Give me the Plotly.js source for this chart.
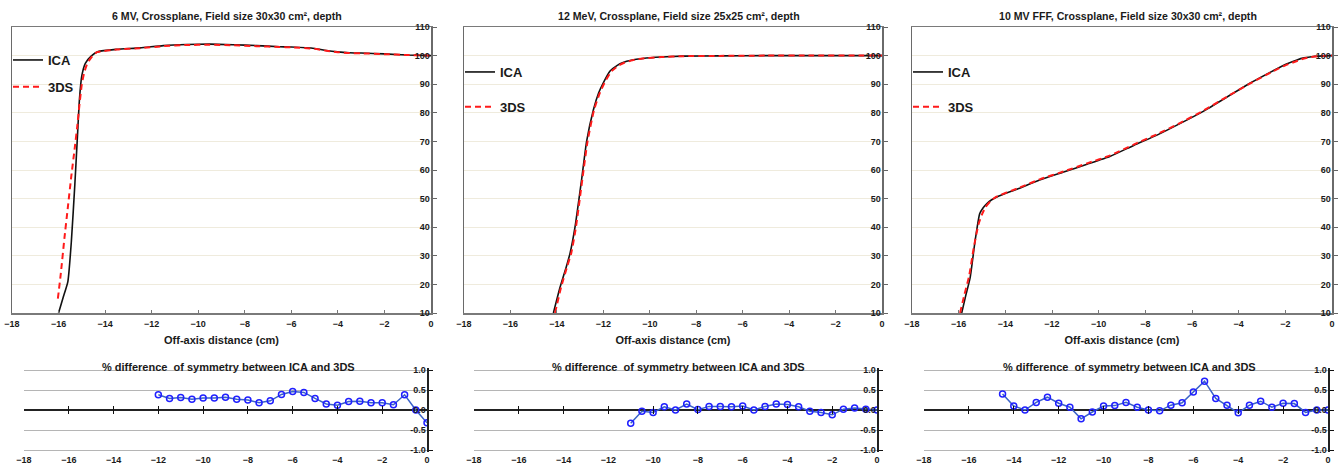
<!DOCTYPE html>
<html>
<head>
<meta charset="utf-8">
<script src="https://cdn.plot.ly/plotly-3.0.1.min.js"></script>
<style>html,body{margin:0;padding:0;background:#fff;}#chart{width:1343px;height:469px;}</style>
</head>
<body>
<div id="chart"></div>
<script>
// ---------- Data ----------
const panelTitles = [
  "6 MV, Crossplane, Field size 30x30 cm², depth",
  "12 MeV, Crossplane, Field size 25x25 cm², depth",
  "10 MV FFF, Crossplane, Field size 30x30 cm², depth"
];
const diffTitle = "% difference  of symmetry between ICA and 3DS";
const xTitle = "Off-axis distance (cm)";
const seriesNames = ["ICA", "3DS"];

// Panel 1: 6 MV
const p1IcaX = [-16.0, -15.8, -15.6, -15.45, -15.3, -15.2, -15.1, -15.0, -14.85, -14.6, -14.3, -13.5, -12.5, -11.5, -10.5, -9.5, -8.5, -7.5, -6.5, -6, -5, -4.5, -4, -3.5, -3, -2, -1, 0];
const p1IcaY = [10, 15.5, 21, 35, 55, 70, 85, 93, 97.3, 99.8, 101.4, 102.2, 102.7, 103.5, 103.9, 104.0, 103.8, 103.5, 103.1, 103.0, 102.5, 101.8, 101.3, 101.0, 100.9, 100.6, 100.2, 100];
const p1DsX = [-16.03, -15.9, -15.75, -15.6, -15.45, -15.3, -15.2, -15.1, -15.0, -14.9, -14.75, -14.55, -14.35, -13.5, -12.5, -11.5, -10.5, -9.5, -8.5, -7.5, -6.5, -6, -5, -4.5, -4, -3.5, -3, -2, -1, 0];
const p1DsY = [15, 24, 36, 47, 58, 68, 75, 83, 90, 94, 97.5, 99.8, 101.2, 102.1, 102.6, 103.3, 103.7, 103.8, 103.6, 103.3, 103.0, 102.9, 102.4, 101.7, 101.2, 100.9, 100.8, 100.5, 100.2, 100];

// Panel 2: 12 MeV
const p2IcaX = [-14.15, -13.87, -13.6, -13.43, -13.22, -12.93, -12.72, -12.43, -12.2, -12.0, -11.71, -11.4, -11.15, -10.8, -10.3, -9.5, -8.57, -7, -5, -3, -1, 0];
const p2IcaY = [10, 18.8, 26, 31, 40, 57, 70, 81, 87, 90.5, 94.6, 96.6, 97.6, 98.4, 99.0, 99.5, 99.8, 99.9, 100, 100, 100, 100];
const p2DsX = [-14.08, -13.82, -13.55, -13.38, -13.18, -12.9, -12.68, -12.4, -12.15, -11.95, -11.65, -11.35, -11.1, -10.75, -10.3, -9.5, -8.57, -7, -5, -3, -1, 0];
const p2DsY = [10, 19, 26.5, 31, 40, 57, 70, 81, 87, 90.5, 94.5, 96.5, 97.5, 98.4, 99.0, 99.5, 99.8, 99.9, 100, 100, 100, 100];

// Panel 3: 10 MV FFF
const p3IcaX = [-15.87, -15.7, -15.51, -15.3, -15.1, -14.95, -14.8, -14.6, -14.3, -13.5, -12.5, -11.5, -10.5, -9.5, -8.5, -7.5, -6.5, -5.5, -4.5, -3.5, -2.5, -2.0, -1.5, -1.2, -0.8, -0.4, 0];
const p3IcaY = [10, 16, 22.3, 35, 44.7, 46.8, 48.2, 49.5, 50.8, 53.3, 56.6, 59.3, 62.0, 64.8, 68.6, 72.2, 76.3, 80.6, 85.5, 90.4, 94.8, 96.9, 98.5, 99.2, 99.7, 99.9, 100];
const p3DsX = [-15.94, -15.75, -15.55, -15.35, -15.15, -15.0, -14.85, -14.65, -14.4, -13.5, -12.5, -11.5, -10.5, -9.5, -8.5, -7.5, -6.5, -5.5, -4.5, -3.5, -2.5, -2.0, -1.5, -1.2, -0.8, -0.4, 0];
const p3DsY = [10, 16.5, 23, 33, 41, 44.5, 47, 49, 50.6, 53.5, 56.8, 59.5, 62.3, 65.1, 68.9, 72.5, 76.5, 80.8, 85.6, 90.3, 94.6, 96.6, 98.1, 99.0, 99.6, 99.9, 100];

// Difference panels
const d1X = [-12, -11.5, -11, -10.5, -10, -9.5, -9, -8.5, -8, -7.5, -7, -6.5, -6, -5.5, -5, -4.5, -4, -3.5, -3, -2.5, -2, -1.5, -1, -0.5, 0];
const d1Y = [0.38, 0.29, 0.31, 0.27, 0.30, 0.30, 0.32, 0.27, 0.25, 0.18, 0.23, 0.39, 0.46, 0.44, 0.29, 0.15, 0.12, 0.21, 0.22, 0.18, 0.18, 0.13, 0.38, 0.0, -0.32];
const d2X = [-11, -10.5, -10, -9.5, -9, -8.5, -8, -7.5, -7, -6.5, -6, -5.5, -5, -4.5, -4, -3.5, -3, -2.5, -2, -1.5, -1, -0.5, 0];
const d2Y = [-0.33, -0.03, -0.06, 0.08, 0.0, 0.15, 0.01, 0.09, 0.09, 0.08, 0.10, 0.0, 0.09, 0.15, 0.14, 0.08, -0.03, -0.06, -0.12, 0.02, 0.05, 0.02, 0.0];
const d3X = [-14.5, -14, -13.5, -13, -12.5, -12, -11.5, -11, -10.5, -10, -9.5, -9, -8.5, -8, -7.5, -7, -6.5, -6, -5.5, -5, -4.5, -4, -3.5, -3, -2.5, -2, -1.5, -1, -0.5, 0];
const d3Y = [0.40, 0.10, 0.0, 0.19, 0.32, 0.17, 0.07, -0.22, -0.05, 0.10, 0.11, 0.19, 0.07, 0.0, -0.02, 0.12, 0.18, 0.45, 0.72, 0.29, 0.12, -0.07, 0.12, 0.22, 0.07, 0.17, 0.16, -0.06, 0.0, 0.0];

const xTicks = [-18, -16, -14, -12, -10, -8, -6, -4, -2, 0];
const yTopTicks = [10, 20, 30, 40, 50, 60, 70, 80, 90, 100, 110];
const yDiffTicks = [-1, -0.5, 0, 0.5, 1];
const yDiffTickText = ["-1.0", "-0.5", "0.0", "0.5", "1.0"];

// ---------- Layout helpers ----------
const W = 1343, H = 469;
const FONT = "Liberation Sans, Arial, sans-serif";
const TXT = "#1a1a1a";
const px = v => v / W;
const py = v => 1 - v / H;

const topXpx = [[12, 431], [464, 882], [912, 1332]];
const botXpx = [[24, 427], [474, 877], [924, 1328]];
const topYpx = [27, 313];
const botYpx = [368.4, 451.6];

const tickFont = {family: FONT, size: 9, color: TXT, weight: "bold"};

const traces = [];
const topData = [[p1IcaX, p1IcaY, p1DsX, p1DsY], [p2IcaX, p2IcaY, p2DsX, p2DsY], [p3IcaX, p3IcaY, p3DsX, p3DsY]];
const diffData = [[d1X, d1Y], [d2X, d2Y], [d3X, d3Y]];

const layout = {
  width: W, height: H,
  margin: {l: 0, r: 0, t: 0, b: 0},
  paper_bgcolor: "#ffffff", plot_bgcolor: "#ffffff",
  font: {family: FONT, color: TXT},
  annotations: []
};

topData.forEach((d, i) => {
  const n = i + 1;
  const xs = n === 1 ? "x" : "x" + n;
  const ys = n === 1 ? "y" : "y" + n;
  const leg = n === 1 ? "legend" : "legend" + n;
  traces.push({x: d[0], y: d[1], xaxis: xs, yaxis: ys, type: "scatter", mode: "lines", name: seriesNames[0],
    line: {color: "#111111", width: 1.6, shape: "spline", smoothing: 0.5}, legend: leg, legendgroup: "a" + n});
  traces.push({x: d[2], y: d[3], xaxis: xs, yaxis: ys, type: "scatter", mode: "lines", name: seriesNames[1],
    line: {color: "#ff1a1a", width: 2, dash: "6px,4px", shape: "spline", smoothing: 0.5}, legend: leg, legendgroup: "b" + n});

  layout[n === 1 ? "xaxis" : "xaxis" + n] = {
    domain: [px(topXpx[i][0]), px(topXpx[i][1])], anchor: ys,
    range: [-18, 0], tickvals: xTicks, ticks: "inside", ticklen: 3, tickcolor: "#777",
    ticklabelstandoff: 2,
    showline: true, linecolor: "#7a7a7a", linewidth: 1.5, mirror: true,
    showgrid: false, zeroline: false, tickfont: tickFont, fixedrange: true,
    title: {text: xTitle, font: {family: FONT, size: 11, color: TXT, weight: "bold"}, standoff: 8}
  };
  layout[n === 1 ? "yaxis" : "yaxis" + n] = {
    domain: [py(topYpx[1]), py(topYpx[0])], anchor: xs, side: "right",
    range: [10, 110], tickvals: yTopTicks, ticks: "outside", ticklen: 4, tickcolor: "#666",
    ticklabelposition: "inside", ticklabeloverflow: "allow",
    showline: true, linecolor: "#6a6a6a", linewidth: 1.5, mirror: true,
    showgrid: true, gridcolor: "#efebdd", gridwidth: 1, zeroline: false,
    tickfont: tickFont, fixedrange: true
  };
  const gap = n === 1 ? 7 : 15;
  const legTop = n === 1 ? 45 : 57;
  layout[leg] = {
    x: px(topXpx[i][0] - 4), y: py(legTop), xanchor: "left", yanchor: "top",
    bgcolor: "rgba(0,0,0,0)", borderwidth: 0, tracegroupgap: gap, itemwidth: 30,
    font: {family: FONT, size: 13, color: TXT, weight: "bold"}
  };
  layout.annotations.push({
    text: panelTitles[i], xref: "paper", yref: "paper",
    x: px((topXpx[i][0] + topXpx[i][1]) / 2 + 6), y: py(16), xanchor: "center", yanchor: "middle",
    showarrow: false, font: {family: FONT, size: 10.6, color: TXT, weight: "bold"}
  });
});

diffData.forEach((d, i) => {
  const n = i + 4;
  const ov = i + 7;
  traces.push({x: d[0], y: d[1], xaxis: "x" + n, yaxis: "y" + n, type: "scatter", mode: "lines+markers",
    name: "diff", showlegend: false,
    line: {color: "#3a62c8", width: 1.5},
    marker: {symbol: "circle-open", size: 6, color: "#2020ff", line: {width: 1.5, color: "#2020ff"}}});
  // invisible copy so the overlaid tick axis on the zero line gets drawn
  traces.push({x: d[0], y: d[1], xaxis: "x" + ov, yaxis: "y" + n, type: "scatter", mode: "lines",
    name: "diff-axis", showlegend: false, hoverinfo: "skip", opacity: 0, line: {width: 0}});
  layout["xaxis" + n] = {
    domain: [px(botXpx[i][0]), px(botXpx[i][1])], anchor: "y" + n,
    range: [-18, 0], tickvals: xTicks, ticks: "", ticklabelstandoff: 1,
    showline: false, showgrid: false, zeroline: false,
    tickfont: tickFont, fixedrange: true
  };
  layout["xaxis" + ov] = {
    overlaying: "x" + n, anchor: "free", position: py((botYpx[0] + botYpx[1]) / 2 + 4),
    range: [-18, 0], tickvals: xTicks, ticks: "inside", ticklen: 8, tickcolor: "#111", tickwidth: 1.2,
    showticklabels: false, showline: false, showgrid: false, zeroline: false, fixedrange: true
  };
  layout["yaxis" + n] = {
    domain: [py(botYpx[1]), py(botYpx[0])], anchor: "x" + n, side: "right",
    range: [-1.04, 1.04], tickvals: yDiffTicks, ticktext: yDiffTickText,
    ticks: "outside", ticklen: 4, tickcolor: "#111",
    ticklabelposition: "inside", ticklabeloverflow: "allow",
    showline: true, linecolor: "#222", linewidth: 1.5,
    showgrid: true, gridcolor: "#b5b5b5", gridwidth: 1,
    zeroline: true, zerolinecolor: "#222", zerolinewidth: 1.5,
    tickfont: tickFont, fixedrange: true
  };
  layout.annotations.push({
    text: diffTitle, xref: "paper", yref: "paper",
    x: px((botXpx[i][0] + botXpx[i][1]) / 2 + 3), y: py(367), xanchor: "center", yanchor: "middle",
    showarrow: false, font: {family: FONT, size: 11, color: TXT, weight: "bold"}
  });
});

Plotly.newPlot("chart", traces, layout, {staticPlot: true, displayModeBar: false});
</script>
</body>
</html>
